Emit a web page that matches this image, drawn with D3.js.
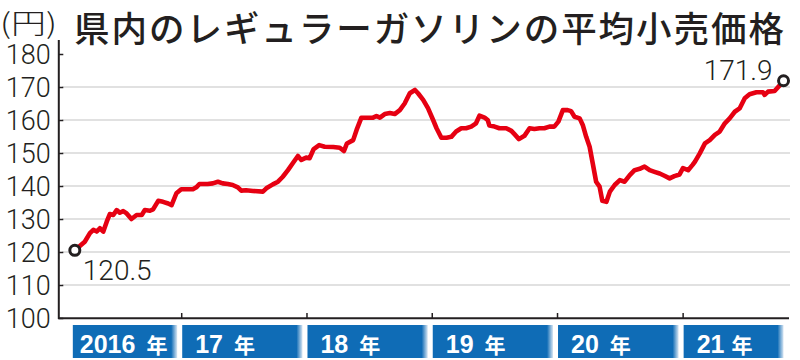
<!DOCTYPE html>
<html><head><meta charset="utf-8">
<script src="https://cdn.jsdelivr.net/npm/d3@7"></script>
<style>body{margin:0;background:#fff}svg{display:block}</style>
</head><body>
<svg id="chart" width="800" height="360"></svg>
<script>
// ---- data ----
const dates = [
"2016-02-26","2016-03-26","2016-04-10","2016-04-20","2016-04-30","2016-05-09","2016-05-19","2016-05-29","2016-06-07","2016-06-17",
"2016-06-27","2016-07-06","2016-07-16","2016-07-26","2016-08-09","2016-08-24","2016-09-08","2016-09-17","2016-10-02","2016-10-11",
"2016-10-26","2016-11-09","2016-11-24","2016-12-04","2016-12-18","2017-01-01","2017-01-20","2017-02-04","2017-02-14","2017-02-23",
"2017-03-19","2017-04-03","2017-04-18","2017-05-02","2017-05-17","2017-05-31","2017-06-15","2017-06-25","2017-07-09","2017-07-29",
"2017-08-27","2017-09-06","2017-09-25","2017-10-10","2017-10-24","2017-11-08","2017-11-22","2017-12-07","2017-12-17","2017-12-31",
"2018-01-10","2018-01-22","2018-02-07","2018-02-23","2018-03-20","2018-04-08","2018-04-20","2018-04-29","2018-05-17","2018-05-27",
"2018-06-10","2018-06-29","2018-07-14","2018-07-24","2018-08-03","2018-08-17","2018-09-01","2018-09-15","2018-09-30","2018-10-14",
"2018-10-29","2018-11-13","2018-11-22","2018-12-07","2018-12-21","2019-01-05","2019-01-15","2019-01-29","2019-02-13","2019-02-27",
"2019-03-13","2019-03-28","2019-04-11","2019-04-26","2019-05-10","2019-05-20","2019-06-04","2019-06-13","2019-06-18","2019-07-03",
"2019-07-17","2019-08-06","2019-08-21","2019-08-30","2019-09-12","2019-09-28","2019-10-13","2019-10-27","2019-11-11","2019-11-25",
"2019-12-10","2019-12-24","2020-01-05","2020-01-18","2020-02-01","2020-02-11","2020-02-21","2020-03-07","2020-03-16","2020-03-26",
"2020-04-05","2020-04-14","2020-04-24","2020-05-04","2020-05-12","2020-05-24","2020-06-03","2020-06-17","2020-07-02","2020-07-16",
"2020-07-31","2020-08-14","2020-08-29","2020-09-12","2020-09-27","2020-10-11","2020-10-26","2020-11-09","2020-11-24","2020-12-08",
"2020-12-23","2021-01-02","2021-01-17","2021-01-30","2021-02-06","2021-02-20","2021-03-07","2021-03-21","2021-04-05","2021-04-19",
"2021-05-04","2021-05-18","2021-06-02","2021-06-16","2021-07-01","2021-07-15","2021-08-04","2021-08-23","2021-08-28","2021-09-07",
"2021-09-26","2021-10-16","2021-10-22"
];
const prices = [
120.5,123.1,125.7,126.7,126.2,127.2,126.2,129.2,131.5,131.2,
132.7,131.9,132.4,131.7,130.0,131.2,131.2,132.7,132.5,132.9,
135.5,135.2,134.7,134.2,137.8,139.0,139.0,139.0,139.6,140.6,
140.6,140.8,141.3,140.8,140.6,140.3,139.6,138.6,138.7,138.5,
138.3,139.3,140.5,141.3,142.8,144.8,146.9,149.1,147.9,148.6,
148.4,151.2,152.4,151.9,151.8,151.6,150.6,152.9,153.9,157.0,
160.7,160.7,160.7,161.2,160.7,161.8,162.1,161.8,163.0,165.0,
168.1,169.1,168.1,166.1,163.6,160.0,157.5,154.6,154.6,154.9,
156.5,157.5,157.5,158.0,159.0,161.3,160.7,160.0,158.3,158.0,
157.5,157.5,156.7,155.7,154.2,155.2,157.5,157.3,157.5,157.5,
158.0,158.0,159.5,163.0,163.0,162.7,161.0,160.5,158.5,154.9,
151.9,146.9,141.3,139.8,135.5,135.2,138.3,140.3,141.8,141.3,
143.3,144.8,145.2,145.9,144.8,144.3,143.8,143.1,142.3,143.0,
143.5,145.4,144.8,146.4,147.4,149.9,152.9,153.9,155.5,156.5,
159.0,160.5,162.5,163.5,166.6,167.8,168.4,168.4,167.6,168.6,
168.8,171.1,171.9
];
const yTicks = [100,110,120,130,140,150,160,170,180];
const gridValues = [110,120,130,140,150,160,170];
const yearStarts = ["2016-01-01","2017-01-01","2018-01-01","2019-01-01","2020-01-01","2021-01-01","2022-01-01"];
const yearNums = ["2016","17","18","19","20","21"];
const yearSuffix = [" 年"," 年"," 年"," 年"," 年","年"];
const titleText = "県内のレギュラーガソリンの平均小売価格";
const unitText = "(円)";
const startLabel = "120.5";
const endLabel = "171.9";

// ---- chart ----
const parse = d3.utcParse("%Y-%m-%d");
const data = dates.map((d, i) => ({date: parse(d), value: prices[i]}));
const svg = d3.select("#chart");
const ink = "#231f20";
const numFont = "Roboto, 'Liberation Sans', Arial, sans-serif";

const x = d3.scaleUtc().domain([parse(yearStarts[0]), parse(yearStarts[6])]).range([55.6, 807.9]);
const y = d3.scaleLinear().domain([100, 180]).range([318, 54]);

// title
svg.append("text").attr("x", 0).attr("y", 34)
  .attr("font-family", "'Noto Sans CJK JP', sans-serif").attr("font-weight", 300)
  .attr("font-size", 28).attr("fill", ink)
  .attr("textLength", 57).attr("lengthAdjust", "spacingAndGlyphs").text(unitText);
svg.append("text").attr("x", 74).attr("y", 41.5)
  .attr("font-family", "'Noto Sans CJK JP', sans-serif").attr("font-weight", 500)
  .attr("font-size", 35.5).attr("fill", ink)
  .attr("textLength", 710).attr("lengthAdjust", "spacing").text(titleText);

// gridlines
svg.append("g").selectAll("line").data(gridValues).join("line")
  .attr("x1", 62).attr("x2", 790)
  .attr("y1", d => y(d)).attr("y2", d => y(d))
  .attr("stroke", "#c4c4c4").attr("stroke-width", 1.2);

// y axis labels
const yLab = svg.append("g").attr("transform", "translate(58.8,0)")
  .call(d3.axisLeft(y).tickValues(yTicks).tickSize(0).tickPadding(8));
yLab.select(".domain").remove();
yLab.selectAll("text").attr("font-family", numFont).attr("font-weight", 300)
  .attr("font-size", 27).attr("fill", ink).attr("dy", "0.36em");

// y ticks inward
const yTk = svg.append("g").attr("transform", "translate(58.8,0)")
  .call(d3.axisRight(y).tickValues(yTicks).tickSize(4.5).tickFormat(""));
yTk.select(".domain").remove();
yTk.selectAll("line").attr("stroke", ink).attr("stroke-width", 1.5);

// axis lines
svg.append("line").attr("x1", 58.8).attr("x2", 58.8).attr("y1", 40).attr("y2", 319)
  .attr("stroke", ink).attr("stroke-width", 2);
svg.append("line").attr("x1", 58).attr("x2", 789).attr("y1", 318.2).attr("y2", 318.2)
  .attr("stroke", ink).attr("stroke-width", 2);

// year ticks on baseline
const xTk = svg.append("g").attr("transform", "translate(0,318)")
  .call(d3.axisTop(x).tickValues(yearStarts.slice(1, 6).map(parse)).tickSize(5).tickFormat(""));
xTk.select(".domain").remove();
xTk.selectAll("line").attr("stroke", ink).attr("stroke-width", 1.5);

// year boxes
const blue = "#0f6cb6";
const defs = svg.append("defs");
const first = x(data[0].date), last = x(data[data.length - 1].date);
const boxes = yearNums.map((lab, i) => {
  const b0 = x(parse(yearStarts[i])), b1 = x(parse(yearStarts[i + 1]));
  const x0 = Math.max(b0 + 1, first - 2);
  const x1 = Math.min(b1 - 4, last);
  return {lab, suf: yearSuffix[i], x0, x1, tx: Math.max(b0 + 14, x0 + 7), i};
});
boxes.forEach(b => {
  const w = b.x1 - b.x0;
  const g = defs.append("linearGradient").attr("id", "fade" + b.i)
    .attr("x1", 0).attr("x2", 1).attr("y1", 0).attr("y2", 0);
  g.append("stop").attr("offset", 0).attr("stop-color", blue);
  g.append("stop").attr("offset", (w - 6) / w).attr("stop-color", blue);
  g.append("stop").attr("offset", 1).attr("stop-color", "#d8e6f3");
});
const bg = svg.append("g");
bg.selectAll("rect").data(boxes).join("rect")
  .attr("x", d => d.x0).attr("y", 325).attr("width", d => d.x1 - d.x0).attr("height", 33)
  .attr("fill", d => `url(#fade${d.i})`);
const bt = bg.selectAll("text").data(boxes).join("text")
  .attr("x", d => d.tx).attr("y", 353).attr("fill", "#fff")
  .attr("font-family", "'Liberation Sans Narrow', 'Liberation Sans', Arial, sans-serif").attr("font-weight", "bold");
bt.append("tspan").attr("font-size", 25).text(d => d.lab);
bt.append("tspan").attr("font-size", 21).attr("dx", d => d.suf.startsWith(" ") ? 11 : 7)
  .attr("font-family", "'Noto Sans CJK JP', sans-serif").text(d => d.suf.trim());

// line
svg.append("path").datum(data)
  .attr("d", d3.line().x(d => x(d.date)).y(d => y(d.value)))
  .attr("fill", "none").attr("stroke", "#e60012").attr("stroke-width", 4.6)
  .attr("stroke-linejoin", "round").attr("stroke-linecap", "round");

// end markers
const ends = [data[0], data[data.length - 1]];
svg.selectAll("circle.end").data(ends).join("circle").attr("class", "end")
  .attr("cx", d => x(d.date)).attr("cy", d => y(d.value)).attr("r", 5)
  .attr("fill", "#fff").attr("stroke", ink).attr("stroke-width", 3);

svg.append("text").attr("x", x(data[0].date) + 8).attr("y", 280)
  .attr("font-family", numFont).attr("font-weight", 300).attr("font-size", 28)
  .attr("fill", ink).text(startLabel);
svg.append("text").attr("x", x(data[data.length - 1].date) - 11).attr("y", 80)
  .attr("text-anchor", "end")
  .attr("font-family", numFont).attr("font-weight", 300).attr("font-size", 28)
  .attr("fill", ink).text(endLabel);
</script>
</body></html>
